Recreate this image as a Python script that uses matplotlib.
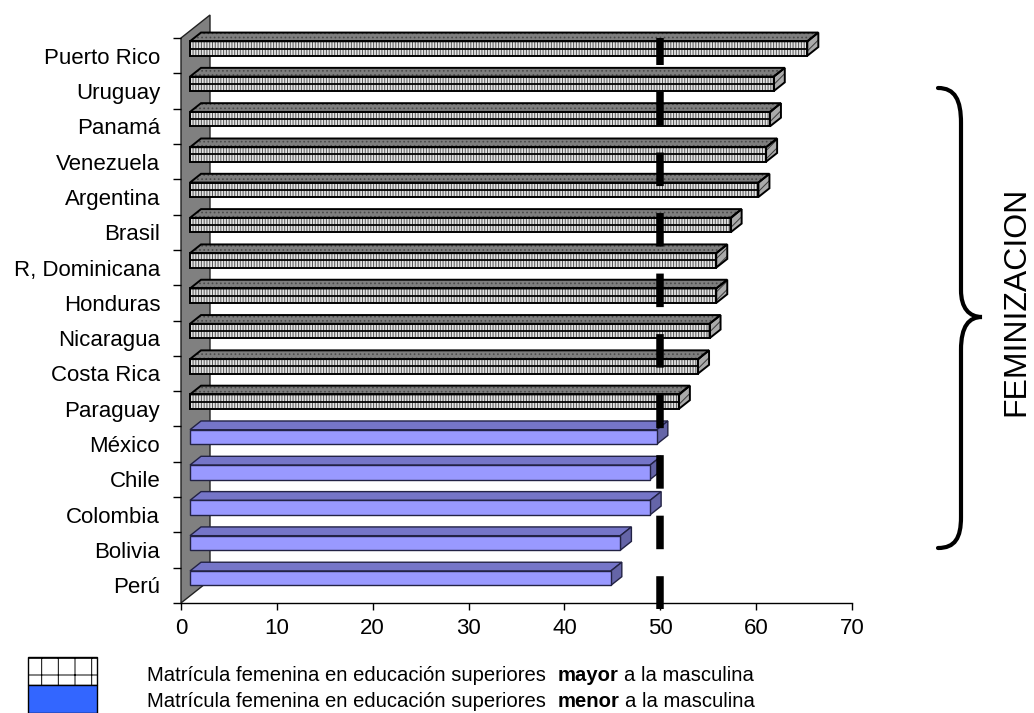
import matplotlib
matplotlib.use("Agg")
import matplotlib.pyplot as plt
from matplotlib.patches import Polygon, Rectangle, PathPatch
from matplotlib.path import Path
import numpy as np

# ---------------- data ----------------
countries = ["Puerto Rico", "Uruguay", "Panamá", "Venezuela", "Argentina", "Brasil",
             "R, Dominicana", "Honduras", "Nicaragua", "Costa Rica", "Paraguay",
             "México", "Chile", "Colombia", "Bolivia", "Perú"]
values = [64.4, 60.9, 60.5, 60.1, 59.3, 56.4, 54.9, 54.9, 54.2, 53.0, 51.0,
          48.7, 48.0, 48.0, 44.9, 43.9]
THRESHOLD = 50
xticks = [0, 10, 20, 30, 40, 50, 60, 70]
legend_lines = [("Matrícula femenina en educación superiores", "mayor", "a la masculina"),
                ("Matrícula femenina en educación superiores", "menor", "a la masculina")]
side_label = "FEMINIZACION"

# ---------------- setup ----------------
W, H = 1034, 713
plt.rcParams["font.family"] = ["Liberation Sans", "DejaVu Sans"]
plt.rcParams["hatch.linewidth"] = 0.7

fig = plt.figure(figsize=(W / 100, H / 100), dpi=100)
ax = fig.add_axes([181 / W, (H - 603) / H, (852 - 181) / W, (603 - 38) / H])
n = len(countries)
ax.set_xlim(0, 70)
ax.set_ylim(n - 0.5, -0.5)

p0 = ax.transData.transform((0, 0))
p1 = ax.transData.transform((1, 1))
ppx = p1[0] - p0[0]
ppy = p1[1] - p0[1]          # negative (inverted axis)
DEPTH_X, DEPTH_Y = 29, 23     # px, full chart depth
dxd = DEPTH_X / ppx
dyd = DEPTH_Y / ppy
F, B = 0.31, 0.69             # bar front/back depth fractions
h = 0.41                      # bar height (slot units)

# wall
wall = Polygon([(0, -0.5), (0, n - 0.5), (dxd, n - 0.5 + dyd), (dxd, -0.5 + dyd)],
               closed=True, facecolor="#808080", edgecolor="#222222", lw=1.0,
               clip_on=False, zorder=1)
ax.add_patch(wall)


def poly(pts, **kw):
    p = Polygon(pts, closed=True, clip_on=False, **kw)
    ax.add_patch(p)
    return p


for i, v in enumerate(values):
    hatched = v > THRESHOLD
    yt, yb = i - h / 2, i + h / 2
    fx, fy = F * dxd, F * dyd
    bx, by = B * dxd, B * dyd
    front = [(fx, yt + fy), (v + fx, yt + fy), (v + fx, yb + fy), (fx, yb + fy)]
    top = [(fx, yt + fy), (v + fx, yt + fy), (v + bx, yt + by), (bx, yt + by)]
    side = [(v + fx, yt + fy), (v + fx, yb + fy), (v + bx, yb + by), (v + bx, yt + by)]
    z = 3
    if hatched:
        poly(top, facecolor="#7e7e7e", edgecolor="#4a4a4a", hatch="....", lw=0, zorder=z)
        poly(side, facecolor="#aaaaaa", edgecolor="#3a3a3a", hatch="////", lw=0, zorder=z)
        poly(front, facecolor="#e4e4e4", edgecolor="#555555", hatch="||||||", lw=0, zorder=z)
        ax.plot([fx, v + fx], [i + fy, i + fy], color="black", lw=1.3, zorder=z + 1,
                clip_on=False, solid_capstyle="butt")
        for pts in (top, side, front):
            poly(pts, facecolor="none", edgecolor="black", lw=1.4, zorder=z + 1)
    else:
        poly(top, facecolor="#7575c8", edgecolor="#222244", lw=1.0, zorder=z)
        poly(side, facecolor="#6565a8", edgecolor="#222244", lw=1.0, zorder=z)
        poly(front, facecolor="#9999ff", edgecolor="#222244", lw=1.0, zorder=z)

# threshold dashed line
ybot = n - 0.5 + 6 / abs(ppy)
ax.plot([THRESHOLD, THRESHOLD], [-0.5, ybot], color="black", lw=5.4,
        linestyle=(0.87, (4.47, 3.6)), dash_capstyle="butt", zorder=10, clip_on=False)

# axes styling
for s in ("left", "top", "right"):
    ax.spines[s].set_visible(False)
ax.spines["bottom"].set_linewidth(1.0)
ax.set_xticks(xticks)
ax.set_xticklabels([str(t) for t in xticks])
ax.tick_params(axis="x", length=5, width=1, direction="out", labelsize=16, pad=6)
ax.set_yticks(np.arange(n + 1) - 0.5)
ax.set_yticklabels([])
ax.set_yticks(np.arange(n), minor=True)
ax.set_yticklabels(countries, minor=True)
ax.tick_params(axis="y", which="major", length=6, width=1)
ax.tick_params(axis="y", which="minor", length=0, pad=15, labelsize=16)


# ---------------- brace + side label ----------------
def fpt(x, y):
    return (x / W, 1 - y / H)

verts = [fpt(938, 88), fpt(955, 88), fpt(961, 100), fpt(961, 123),
         fpt(961, 290),
         fpt(961, 308), fpt(969, 317), fpt(982, 317),
         fpt(969, 317), fpt(961, 326), fpt(961, 350),
         fpt(961, 517),
         fpt(961, 538), fpt(955, 548), fpt(938, 548)]
codes = [Path.MOVETO, Path.CURVE4, Path.CURVE4, Path.CURVE4,
         Path.LINETO,
         Path.CURVE4, Path.CURVE4, Path.CURVE4,
         Path.CURVE4, Path.CURVE4, Path.CURVE4,
         Path.LINETO,
         Path.CURVE4, Path.CURVE4, Path.CURVE4]
fig.add_artist(PathPatch(Path(verts, codes), facecolor="none", edgecolor="black",
                         lw=3.0, transform=fig.transFigure, capstyle="round"))
fig.text(1016 / W, 1 - 301 / H, side_label, rotation=90, ha="center", va="center",
         fontsize=23, color="black")

# ---------------- legend ----------------
fig.add_artist(Rectangle(fpt(28, 685), 69 / W, 28 / H, facecolor="white",
                         edgecolor="black", hatch="+", lw=1.0, transform=fig.transFigure))
fig.add_artist(Rectangle(fpt(28, 713), 69 / W, 28 / H, facecolor="#3366ff",
                         edgecolor="black", lw=1.0, transform=fig.transFigure))

renderer = fig.canvas.get_renderer()
LFS = 14.6
space_px = LFS * 100 / 72 * 0.278
for (a, b, c), ybase in zip(legend_lines, [681, 707]):
    cur = 147
    for txt, wt, gap in ((a, "normal", 2), (b, "bold", 1), (c, "normal", 0)):
        t = fig.text(cur / W, 1 - ybase / H, txt, fontsize=LFS, fontweight=wt,
                     ha="left", va="baseline")
        bb = t.get_window_extent(renderer)
        cur = bb.x1 + gap * space_px

fig.savefig("out.png", dpi=100)
